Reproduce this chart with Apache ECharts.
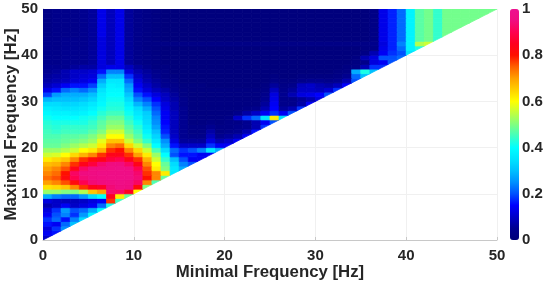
<!DOCTYPE html>
<html><head><meta charset="utf-8">
<style>html,body{margin:0;padding:0;background:#fff}#c{width:550px;height:283px;filter:blur(0.5px)}</style>
<script src="https://cdn.jsdelivr.net/npm/echarts@6/dist/echarts.min.js"></script>
</head><body><div id="c"></div>
<script>
// Each row is a maximal frequency bin; entries are minimal frequency bins (percent of full scale).
const row00=[10];
const row01=[14,16];
const row02=[12,18,25];
const row03=[16,14,22,30];
const row04=[18,22,16,24,34];
const row05=[14,20,24,18,26,38];
const row06=[12,18,26,20,22,28,40];
const row07=[8,10,14,10,12,14,22,42];
const row08=[12,10,9,9,10,12,14,78,45];
const row09=[28,24,22,22,26,34,40,85,62,48];
const row10=[52,52,50,50,54,66,70,93,92,85,60];
const row11=[63,64,66,72,78,84,86,94,96,95,82,50];
const row12=[70,72,76,82,90,94,95,96,97,96,92,72,46];
const row13=[74,76,82,90,94,95,96,97,97,97,94,80,72,48];
const row14=[72,74,80,92,95,96,97,97,97,97,93,78,72,62,36];
const row15=[70,72,76,84,92,95,95,96,97,96,90,76,62,50,36,28];
const row16=[67,68,72,78,84,88,93,95,95,92,84,72,60,48,34,24,20];
const row17=[62,64,66,72,78,82,84,88,90,84,78,68,56,44,30,20,14,14];
const row18=[56,57,60,64,68,72,78,84,84,78,70,62,52,40,20,16,16,14,14];
const row19=[52,52,54,56,60,62,68,78,80,72,64,56,46,34,22,18,20,24,36,28];
const row20=[48,48,50,52,54,56,62,72,74,64,56,50,40,28,16,10,10,10,18,14,14];
const row21=[47,47,48,49,50,52,58,66,66,56,50,44,36,25,12,6,6,6,12,8,10,14];
const row22=[46,46,47,47,48,50,54,60,60,52,47,41,33,20,10,5,4,4,9,5,6,8,14];
const row23=[45,44,45,45,45,47,50,56,56,49,45,38,30,17,9,5,3,3,7,3,4,5,8,16];
const row24=[44,43,44,44,44,45,48,52,52,47,43,36,27,16,9,5,3,3,5,3,3,4,5,8,18];
const row25=[43,42,42,42,42,44,47,50,50,45,41,34,25,15,9,5,2,2,3,2,3,3,5,8,14,20];
const row26=[41,40,40,40,41,42,45,48,48,43,38,33,24,14,9,5,2,2,2,2,3,10,18,22,35,62,34];
const row27=[39,38,38,37,38,40,43,45,45,41,36,32,22,14,9,5,2,2,2,2,2,4,7,10,14,18,14,20];
const row28=[37,36,35,35,36,38,41,43,43,39,34,28,20,13,8,5,2,2,2,2,2,2,3,4,8,15,6,8,18];
const row29=[34,34,33,33,34,36,39,42,42,37,29,24,18,12,8,4,2,2,2,2,2,2,2,2,6,14,4,4,7,14];
const row30=[29,30,30,30,31,33,38,41,41,34,24,20,15,10,7,4,2,2,2,2,2,2,2,2,5,13,4,4,6,8,12];
const row31=[19,26,28,28,28,30,37,40,40,31,20,16,12,9,6,3,2,2,2,2,2,2,2,2,4,12,5,8,12,13,15,20];
const row32=[13,16,22,24,22,25,35,39,39,28,16,12,9,7,5,3,2,2,2,2,2,2,2,2,3,9,4,6,10,10,9,11,18];
const row33=[9,11,14,16,16,19,32,38,37,26,14,10,7,5,4,2,2,2,1,1,1,1,1,1,2,6,3,4,9,10,8,7,9,15];
const row34=[7,8,9,11,12,14,28,36,36,22,12,8,6,4,3,1,1,1,1,1,1,1,1,1,1,3,2,2,4,5,5,4,5,8,20];
const row35=[6,7,8,10,11,12,22,30,30,18,10,7,5,3,2,1,1,1,1,1,1,1,1,1,1,2,1,1,2,2,2,2,3,5,22,30];
const row36=[5,6,8,10,10,11,16,24,24,12,8,6,4,3,1,1,1,1,1,1,1,1,1,1,1,1,1,1,1,1,1,1,2,3,28,42,30];
const row37=[5,5,5,6,7,7,12,13,13,9,6,4,2,2,1,1,1,1,1,1,1,1,1,1,1,1,1,1,1,1,1,1,1,2,3,8,18,18];
const row38=[4,4,5,5,5,6,12,9,13,6,4,3,2,1,1,1,1,1,1,1,1,1,1,1,1,1,1,1,1,1,1,1,1,1,2,4,12,14,20];
const row39=[4,4,5,5,5,6,12,9,13,6,4,3,2,1,1,1,1,1,1,1,1,1,1,1,1,1,1,1,1,1,1,1,1,1,2,8,12,20,20,22];
const row40=[4,4,5,5,5,6,12,9,13,6,4,3,2,1,1,1,1,1,1,1,1,1,1,1,1,1,1,1,1,1,1,1,1,1,1,3,8,14,18,20,35];
const row41=[4,4,5,5,5,6,12,9,13,6,4,3,2,1,1,1,1,1,1,1,1,1,1,1,1,1,1,1,1,1,1,1,1,1,1,2,3,13,17,22,38,42];
const row42=[4,4,5,5,5,6,12,9,13,6,4,3,3,3,3,3,3,3,3,3,3,3,3,3,3,3,3,3,3,3,3,3,3,3,3,3,4,12,17,24,38,54,56];
const row43=[4,4,5,5,5,6,12,9,13,6,4,3,2,1,1,1,1,1,1,1,1,1,1,1,1,1,1,1,1,1,1,1,1,1,1,1,3,13,17,22,38,47,49,44];
const row44=[3,4,4,4,5,6,13,9,13,6,4,3,2,1,1,1,1,1,1,1,1,1,1,1,1,1,1,1,1,1,1,1,1,1,1,1,3,13,17,22,38,47,49,44,49];
const row45=[3,4,4,4,5,6,13,9,13,6,4,3,2,1,1,1,1,1,1,1,1,1,1,1,1,1,1,1,1,1,1,1,1,1,1,1,3,13,17,22,38,47,49,44,49,49];
const row46=[3,4,4,4,5,6,13,9,13,6,4,3,2,1,1,1,1,1,1,1,1,1,1,1,1,1,1,1,1,1,1,1,1,1,1,1,3,13,17,22,38,47,49,44,49,49,49];
const row47=[3,4,4,4,5,6,13,9,13,6,4,3,2,1,1,1,1,1,1,1,1,1,1,1,1,1,1,1,1,1,1,1,1,1,1,1,3,13,17,22,38,47,49,44,49,49,49,49];
const row48=[3,4,4,4,5,6,13,9,13,6,4,3,2,1,1,1,1,1,1,1,1,1,1,1,1,1,1,1,1,1,1,1,1,1,1,1,3,13,17,22,38,47,49,44,49,49,49,49,49];
const row49=[3,4,4,4,5,6,13,9,13,6,4,3,2,1,1,1,1,1,1,1,1,1,1,1,1,1,1,1,1,1,1,1,1,1,1,1,3,13,17,22,38,47,49,44,49,49,49,49,49,49];
const rows=[row00,row01,row02,row03,row04,row05,row06,row07,row08,row09,row10,row11,row12,row13,row14,row15,row16,row17,row18,row19,row20,row21,row22,row23,row24,row25,row26,row27,row28,row29,row30,row31,row32,row33,row34,row35,row36,row37,row38,row39,row40,row41,row42,row43,row44,row45,row46,row47,row48,row49];
const colorbarTicks=[0,0.2,0.4,0.6,0.8,1];
const palette=['#000078','#000090','#0000c8','#0000ff','#0050ff','#0090ff','#00c0ff','#00e4ff','#00ffff','#40ffc0','#80ff80','#c0ff40','#ffff00','#ffd000','#ffa000','#ff6000','#ff1000','#ff0020','#ff0050','#f00c80','#ee1090'];

const cells=[];
rows.forEach((r,j)=>r.forEach((v,i)=>cells.push([i,j,v/100])));
const ink='#262626';
const label={color:ink,fontFamily:'"Liberation Sans",Arial,sans-serif',fontWeight:'bold',fontSize:15};
const nameStyle={color:ink,fontFamily:'"Liberation Sans",Arial,sans-serif',fontWeight:'bold',fontSize:16.8};
const chart=echarts.init(document.getElementById('c'),null,{renderer:'canvas'});
chart.setOption({
  animation:false,backgroundColor:'#fff',
  grid:[{left:43,top:9,width:454,height:231,outerBoundsMode:'none',containLabel:false},{left:510,top:9,width:9,height:231,outerBoundsMode:'none',containLabel:false}],
  xAxis:[
    {gridIndex:0,type:'value',min:0,max:50,interval:10,name:'Minimal Frequency [Hz]',nameLocation:'middle',nameGap:24,nameMoveOverlap:false,nameTextStyle:nameStyle,
     axisLabel:{...label,margin:8},axisLine:{show:true,lineStyle:{color:'#c8c8c8'}},axisTick:{show:true,inside:true,length:3,lineStyle:{color:'#c8c8c8'}},splitLine:{show:true,lineStyle:{color:'#f0f0f0'}}},
    {gridIndex:1,type:'value',min:0,max:1,show:false}
  ],
  yAxis:[
    {gridIndex:0,type:'value',min:0,max:50,interval:10,name:'Maximal Frequency [Hz]',nameLocation:'middle',nameGap:23,nameMoveOverlap:false,nameTextStyle:nameStyle,
     axisLabel:{...label,margin:5},axisLine:{show:true,lineStyle:{color:'#c8c8c8'}},axisTick:{show:true,inside:true,length:3,lineStyle:{color:'#c8c8c8'}},splitLine:{show:true,lineStyle:{color:'#f0f0f0'}}},
    {gridIndex:1,type:'value',min:0,max:1,interval:0.2,position:'right',axisLine:{show:false},axisTick:{show:false},splitLine:{show:false},
     axisLabel:{...label,margin:3,formatter:v=>colorbarTicks.includes(+v.toFixed(1))?String(+v.toFixed(1)):''}}
  ],
  visualMap:{type:'continuous',min:0,max:1,dimension:2,seriesIndex:0,show:true,calculable:false,realtime:false,hoverLink:false,
    left:510,top:9,itemWidth:9,itemHeight:231,padding:0,text:null,showLabel:false,inRange:{color:palette}},
  series:[{type:'custom',xAxisIndex:0,yAxisIndex:0,silent:true,clip:true,data:cells,encode:{x:0,y:1},
    renderItem(params,api){
      const i=api.value(0),j=api.value(1);
      const pts=i<j?[[i,j],[i+1,j],[i+1,j+1],[i,j+1]]:[[i,j],[i+1,j+1],[i,j+1]];
      const c=api.visual('color');
      return {type:'polygon',shape:{points:pts.map(p=>api.coord(p))},style:{fill:c,stroke:c,lineWidth:0.8}};
    }}]
});
</script></body></html>
